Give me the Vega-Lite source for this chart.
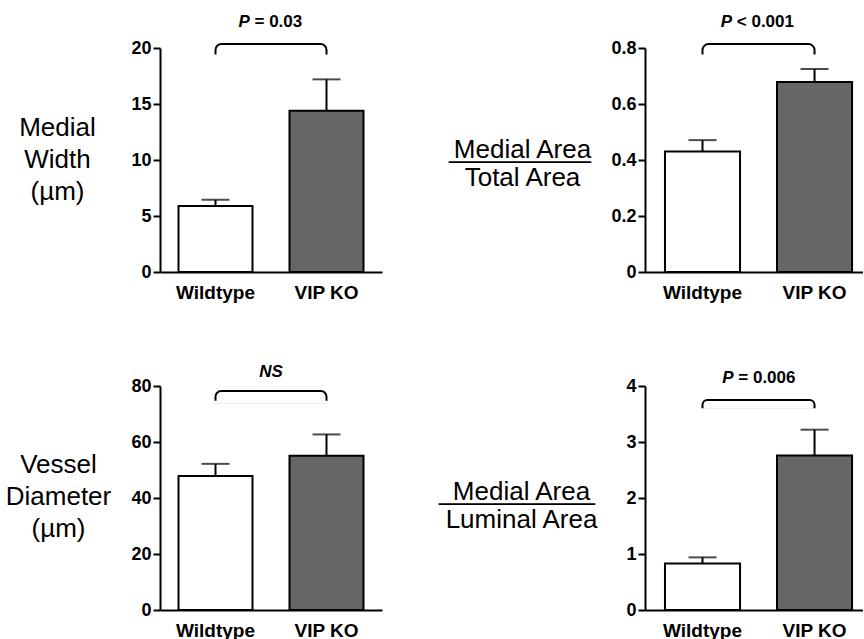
{
  "$schema": "https://vega.github.io/schema/vega-lite/v6.json",
  "padding": {"left": 5, "top": 12, "right": 0, "bottom": 0},
  "background": "white",
  "columns": 2,
  "spacing": {"row": 114, "column": 263},
  "bounds": "flush",
  "config": {
    "view": {"stroke": null},
    "font": "Liberation Sans",
    "axis": {"domainColor": "black", "domainWidth": 2, "tickColor": "black", "tickWidth": 2, "labelColor": "black", "labelFont": "Liberation Sans", "labelFontWeight": "bold", "grid": false, "titleColor": "black", "titleFont": "Liberation Sans", "titleFontWeight": "normal"},
    "axisX": {"ticks": false, "labelFontSize": 19, "labelPadding": 11, "labelAngle": 0},
    "axisY": {"tickSize": 7, "labelFontSize": 18, "labelPadding": 2, "titleAngle": 0, "titleAlign": "center", "titleBaseline": "middle", "titleFontSize": 26},
    "title": {"font": "Liberation Sans", "fontSize": 25.5, "fontWeight": "normal", "color": "black", "orient": "top", "frame": "group", "anchor": "start", "offset": 0, "baseline": "alphabetic"},
    "text": {"font": "Liberation Sans", "fontSize": 17, "fontWeight": "bold", "baseline": "middle", "color": "black"}
  },
  "concat": [
    {
      "width": 222, "height": 224,
      "data": {"values": [{"group": "Wildtype", "mean": 5.9, "upper": 6.45}, {"group": "VIP KO", "mean": 14.4, "upper": 17.2}]},
      "encoding": {"x": {"field": "group", "type": "nominal", "title": null, "scale": {"domain": ["Wildtype", "VIP KO"], "paddingInner": 0.3333, "paddingOuter": 0.1667}}},
      "layer": [
        {"mark": {"type": "bar", "stroke": "black", "strokeWidth": 2},
         "encoding": {"y": {"field": "mean", "type": "quantitative", "scale": {"domain": [0, 20], "nice": false}, "axis": {"values": [0, 5, 10, 15, 20], "title": ["Medial", "Width", "(µm)"], "titleX": -103, "titleY": 79, "titleLineHeight": 32}},
                      "fill": {"field": "group", "type": "nominal", "scale": {"domain": ["Wildtype", "VIP KO"], "range": ["white", "#666666"]}, "legend": null}}},
        {"mark": {"type": "rule", "strokeWidth": 2, "color": "black"}, "encoding": {"y": {"field": "mean", "type": "quantitative"}, "y2": {"field": "upper"}}},
        {"mark": {"type": "tick", "size": 28, "thickness": 2, "color": "black"}, "encoding": {"y": {"field": "upper", "type": "quantitative"}}},
        {"data": {"values": [{"left": "Wildtype", "right": "VIP KO", "top": 20.36, "end": 19.29, "labely": 22.32, "p": "P", "label": "=\u00a00.03"}]},
         "layer": [
           {"mark": {"type": "rect", "filled": false, "color": "black", "strokeWidth": 2, "cornerRadiusTopLeft": 8, "cornerRadiusTopRight": 8},
            "encoding": {"x": {"field": "left", "type": "nominal", "bandPosition": 0.5}, "x2": {"field": "right", "bandPosition": 0.5}, "y": {"field": "top", "type": "quantitative"}, "y2": {"field": "end"}}},
           {"mark": {"type": "rule", "color": "white", "strokeWidth": 3, "strokeCap": "square"},
            "encoding": {"x": {"field": "left", "type": "nominal", "bandPosition": 0.5}, "x2": {"field": "right", "bandPosition": 0.5}, "y": {"field": "end", "type": "quantitative"}}},
           {"mark": {"type": "text", "align": "left", "dx": -32.5, "fontStyle": "italic"},
            "encoding": {"x": {"field": "left", "type": "nominal", "bandPosition": 1.25}, "y": {"field": "labely", "type": "quantitative"}, "text": {"field": "p"}}},
           {"mark": {"type": "text", "align": "left", "dx": -16.5},
            "encoding": {"x": {"field": "left", "type": "nominal", "bandPosition": 1.25}, "y": {"field": "labely", "type": "quantitative"}, "text": {"field": "label"}}}
         ]}
      ]
    },
    {
      "width": 218, "height": 224,
      "title": {"text": "__________", "dx": -196, "dy": 155},
      "data": {"values": [{"group": "Wildtype", "mean": 0.43, "upper": 0.471}, {"group": "VIP KO", "mean": 0.679, "upper": 0.725}]},
      "encoding": {"x": {"field": "group", "type": "nominal", "title": null, "scale": {"domain": ["Wildtype", "VIP KO"], "paddingInner": 0.33, "paddingOuter": 0.138, "align": 0.646}}},
      "layer": [
        {"mark": {"type": "bar", "stroke": "black", "strokeWidth": 2},
         "encoding": {"y": {"field": "mean", "type": "quantitative", "scale": {"domain": [0, 0.8], "nice": false}, "axis": {"values": [0, 0.2, 0.4, 0.6, 0.8], "labelExpr": "datum.value == 0 ? '0' : format(datum.value, '.1f')", "title": ["Medial Area", "Total Area"], "titleX": -123, "titleY": 101, "titleLineHeight": 28}},
                      "fill": {"field": "group", "type": "nominal", "scale": {"domain": ["Wildtype", "VIP KO"], "range": ["white", "#666666"]}, "legend": null}}},
        {"mark": {"type": "rule", "strokeWidth": 2, "color": "black"}, "encoding": {"y": {"field": "mean", "type": "quantitative"}, "y2": {"field": "upper"}}},
        {"mark": {"type": "tick", "size": 28, "thickness": 2, "color": "black"}, "encoding": {"y": {"field": "upper", "type": "quantitative"}}},
        {"data": {"values": [{"left": "Wildtype", "right": "VIP KO", "top": 0.814, "end": 0.771, "labely": 0.893, "p": "P", "label": "<\u00a00.001"}]},
         "layer": [
           {"mark": {"type": "rect", "filled": false, "color": "black", "strokeWidth": 2, "cornerRadiusTopLeft": 8, "cornerRadiusTopRight": 8},
            "encoding": {"x": {"field": "left", "type": "nominal", "bandPosition": 0.5}, "x2": {"field": "right", "bandPosition": 0.5}, "y": {"field": "top", "type": "quantitative"}, "y2": {"field": "end"}}},
           {"mark": {"type": "rule", "color": "white", "strokeWidth": 3, "strokeCap": "square"},
            "encoding": {"x": {"field": "left", "type": "nominal", "bandPosition": 0.5}, "x2": {"field": "right", "bandPosition": 0.5}, "y": {"field": "end", "type": "quantitative"}}},
           {"mark": {"type": "text", "align": "left", "dx": -38, "fontStyle": "italic"},
            "encoding": {"x": {"field": "left", "type": "nominal", "bandPosition": 1.25}, "y": {"field": "labely", "type": "quantitative"}, "text": {"field": "p"}}},
           {"mark": {"type": "text", "align": "left", "dx": -22},
            "encoding": {"x": {"field": "left", "type": "nominal", "bandPosition": 1.25}, "y": {"field": "labely", "type": "quantitative"}, "text": {"field": "label"}}}
         ]}
      ]
    },
    {
      "width": 222, "height": 224,
      "data": {"values": [{"group": "Wildtype", "mean": 47.9, "upper": 52.2}, {"group": "VIP KO", "mean": 55.1, "upper": 62.7}]},
      "encoding": {"x": {"field": "group", "type": "nominal", "title": null, "scale": {"domain": ["Wildtype", "VIP KO"], "paddingInner": 0.3333, "paddingOuter": 0.1667}}},
      "layer": [
        {"mark": {"type": "bar", "stroke": "black", "strokeWidth": 2},
         "encoding": {"y": {"field": "mean", "type": "quantitative", "scale": {"domain": [0, 80], "nice": false}, "axis": {"values": [0, 20, 40, 60, 80], "title": ["Vessel", "Diameter", "(µm)"], "titleX": -102, "titleY": 78, "titleLineHeight": 32}},
                      "fill": {"field": "group", "type": "nominal", "scale": {"domain": ["Wildtype", "VIP KO"], "range": ["white", "#666666"]}, "legend": null}}},
        {"mark": {"type": "rule", "strokeWidth": 2, "color": "black"}, "encoding": {"y": {"field": "mean", "type": "quantitative"}, "y2": {"field": "upper"}}},
        {"mark": {"type": "tick", "size": 28, "thickness": 2, "color": "black"}, "encoding": {"y": {"field": "upper", "type": "quantitative"}}},
        {"data": {"values": [{"left": "Wildtype", "right": "VIP KO", "top": 78.2, "end": 74.2, "labely": 85.0, "label": "NS"}]},
         "layer": [
           {"mark": {"type": "rect", "filled": false, "color": "black", "strokeWidth": 2, "cornerRadiusTopLeft": 8, "cornerRadiusTopRight": 8},
            "encoding": {"x": {"field": "left", "type": "nominal", "bandPosition": 0.5}, "x2": {"field": "right", "bandPosition": 0.5}, "y": {"field": "top", "type": "quantitative"}, "y2": {"field": "end"}}},
           {"mark": {"type": "rule", "color": "white", "strokeWidth": 3, "strokeCap": "square"},
            "encoding": {"x": {"field": "left", "type": "nominal", "bandPosition": 0.5}, "x2": {"field": "right", "bandPosition": 0.5}, "y": {"field": "end", "type": "quantitative"}}},
           {"mark": {"type": "text", "align": "center", "fontStyle": "italic"},
            "encoding": {"x": {"field": "left", "type": "nominal", "bandPosition": 1.25}, "y": {"field": "labely", "type": "quantitative"}, "text": {"field": "label"}}}
         ]}
      ]
    },
    {
      "width": 218, "height": 224,
      "title": {"text": "___________", "dx": -206, "dy": 140},
      "data": {"values": [{"group": "Wildtype", "mean": 0.83, "upper": 0.94}, {"group": "VIP KO", "mean": 2.76, "upper": 3.22}]},
      "encoding": {"x": {"field": "group", "type": "nominal", "title": null, "scale": {"domain": ["Wildtype", "VIP KO"], "paddingInner": 0.33, "paddingOuter": 0.138, "align": 0.646}}},
      "layer": [
        {"mark": {"type": "bar", "stroke": "black", "strokeWidth": 2},
         "encoding": {"y": {"field": "mean", "type": "quantitative", "scale": {"domain": [0, 4], "nice": false}, "axis": {"values": [0, 1, 2, 3, 4], "format": "d", "title": ["\u00a0\u00a0Medial Area", "Luminal Area"], "titleX": -124, "titleY": 105, "titleLineHeight": 28}},
                      "fill": {"field": "group", "type": "nominal", "scale": {"domain": ["Wildtype", "VIP KO"], "range": ["white", "#666666"]}, "legend": null}}},
        {"mark": {"type": "rule", "strokeWidth": 2, "color": "black"}, "encoding": {"y": {"field": "mean", "type": "quantitative"}, "y2": {"field": "upper"}}},
        {"mark": {"type": "tick", "size": 28, "thickness": 2, "color": "black"}, "encoding": {"y": {"field": "upper", "type": "quantitative"}}},
        {"data": {"values": [{"left": "Wildtype", "right": "VIP KO", "top": 3.75, "end": 3.575, "labely": 4.14, "p": "P", "label": "=\u00a00.006"}]},
         "layer": [
           {"mark": {"type": "rect", "filled": false, "color": "black", "strokeWidth": 2, "cornerRadiusTopLeft": 8, "cornerRadiusTopRight": 8},
            "encoding": {"x": {"field": "left", "type": "nominal", "bandPosition": 0.5}, "x2": {"field": "right", "bandPosition": 0.5}, "y": {"field": "top", "type": "quantitative"}, "y2": {"field": "end"}}},
           {"mark": {"type": "rule", "color": "white", "strokeWidth": 3, "strokeCap": "square"},
            "encoding": {"x": {"field": "left", "type": "nominal", "bandPosition": 0.5}, "x2": {"field": "right", "bandPosition": 0.5}, "y": {"field": "end", "type": "quantitative"}}},
           {"mark": {"type": "text", "align": "left", "dx": -36.5, "fontStyle": "italic"},
            "encoding": {"x": {"field": "left", "type": "nominal", "bandPosition": 1.25}, "y": {"field": "labely", "type": "quantitative"}, "text": {"field": "p"}}},
           {"mark": {"type": "text", "align": "left", "dx": -20.5},
            "encoding": {"x": {"field": "left", "type": "nominal", "bandPosition": 1.25}, "y": {"field": "labely", "type": "quantitative"}, "text": {"field": "label"}}}
         ]}
      ]
    }
  ]
}
